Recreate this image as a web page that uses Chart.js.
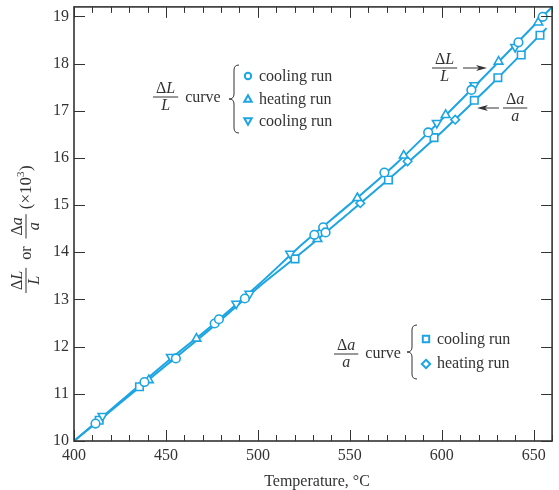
<!DOCTYPE html>
<html>
<head>
<meta charset="utf-8">
<script src="https://cdn.jsdelivr.net/npm/chart.js@4.4.0/dist/chart.umd.min.js"></script>
<style>
  html, body { margin: 0; padding: 0; background: #fff; }
</style>
</head>
<body>
<canvas id="chart" width="559" height="490"></canvas>
<script>
// values, strain in units of 10^-3

// fitted curves
const fitTemps = [400, 425, 450, 475, 500, 525, 550, 575, 600, 625, 650, 660];
const dLLFit   = [10.0, 10.83, 11.66, 12.45, 13.3, 14.2, 15.02, 15.87, 16.82, 17.8, 18.8, 19.2];
const daTemps  = [400, 425, 450, 475, 500, 525, 550, 575, 600, 625, 650, 657];
const daaFit   = [10.0, 10.8, 11.6, 12.4, 13.25, 14.03, 14.85, 15.68, 16.55, 17.48, 18.47, 18.75];

// ΔL/L measurements
const cool1Temps = [411.7, 438.3, 455.4, 476.5, 478.8, 492.9, 530.7, 535.5, 536.8, 568.8, 592.6, 616.1, 641.7, 654.9];
const cool1Vals  = [10.37, 11.25, 11.75, 12.49, 12.58, 13.02, 14.37, 14.53, 14.42, 15.69, 16.54, 17.44, 18.45, 18.99];
const heatLTemps = [440.7, 466.6, 532.4, 554.1, 579.3, 602.1, 630.9, 652.5];
const heatLVals  = [11.29, 12.17, 14.28, 15.15, 16.05, 16.91, 18.04, 18.87];
const cool2Temps = [415.5, 452.7, 488.2, 495.4, 517.5, 597.3, 617.7, 639.9];
const cool2Vals  = [10.53, 11.78, 12.91, 13.12, 13.97, 16.74, 17.54, 18.35];

// Δa/a measurements
const coolATemps = [413.7, 435.6, 520.2, 571.0, 595.8, 617.7, 630.5, 643.2, 653.4];
const coolAVals  = [10.44, 11.15, 13.86, 15.53, 16.43, 17.22, 17.70, 18.18, 18.6];
const heatATemps = [555.7, 581.4, 607.3];
const heatAVals  = [15.04, 15.93, 16.81];

const BLUE = '#1da5e2';
const INK = '#333333';
const SERIF = '"Liberation Serif", "Times New Roman", serif';
const FS = 16;

function pts(xs, ys) {
    return xs.map((x, i) => ({ x: x, y: ys[i] }));
}

function markerSet(label, xs, ys, style, rot, r) {
    return {
        type: 'scatter',
        label: label,
        data: pts(xs, ys),
        pointStyle: style,
        rotation: rot,
        pointRadius: r,
        pointBackgroundColor: '#fff',
        pointBorderColor: BLUE,
        pointBorderWidth: 1.6,
        showLine: false,
        order: 1
    };
}

function fitLine(label, xs, ys) {
    return {
        type: 'line',
        label: label,
        data: pts(xs, ys),
        borderColor: BLUE,
        borderWidth: 2,
        pointRadius: 0,
        cubicInterpolationMode: 'monotone',
        fill: false,
        order: 10
    };
}

// text helpers for the stacked fractions
function richWidth(ctx, parts, size) {
    let w = 0;
    parts.forEach(p => {
        ctx.font = (p.i ? 'italic ' : '') + size + 'px ' + SERIF;
        w += ctx.measureText(p.t).width;
    });
    return w;
}

function drawRich(ctx, parts, x, y, size) {
    parts.forEach(p => {
        ctx.font = (p.i ? 'italic ' : '') + size + 'px ' + SERIF;
        ctx.fillText(p.t, x, y);
        x += ctx.measureText(p.t).width;
    });
    return x;
}

// fraction with its left edge at x, bar at barY; returns width
function drawFrac(ctx, num, den, x, barY, size) {
    const wn = richWidth(ctx, num, size);
    const wd = richWidth(ctx, den, size);
    const w = Math.max(wn, wd) + 6;
    ctx.beginPath();
    ctx.moveTo(x, barY);
    ctx.lineTo(x + w, barY);
    ctx.lineWidth = 1;
    ctx.stroke();
    drawRich(ctx, num, x + (w - wn) / 2, barY - 4, size);
    drawRich(ctx, den, x + (w - wd) / 2, barY + 13, size);
    return w;
}

function drawBrace(ctx, x, top, bottom, w) {
    const mid = (top + bottom) / 2;
    const h = w / 2;
    ctx.beginPath();
    ctx.moveTo(x + w, top);
    ctx.quadraticCurveTo(x + h, top, x + h, top + h);
    ctx.lineTo(x + h, mid - h);
    ctx.quadraticCurveTo(x + h, mid, x, mid);
    ctx.quadraticCurveTo(x + h, mid, x + h, mid + h);
    ctx.lineTo(x + h, bottom - h);
    ctx.quadraticCurveTo(x + h, bottom, x + w, bottom);
    ctx.lineWidth = 1;
    ctx.stroke();
}

function legendMark(ctx, kind, x, y) {
    ctx.save();
    ctx.strokeStyle = BLUE;
    ctx.fillStyle = '#fff';
    ctx.lineWidth = 2;
    ctx.beginPath();
    const r = 3.2;
    if (kind === 'circle') {
        ctx.arc(x, y, r, 0, Math.PI * 2);
    } else if (kind === 'up') {
        ctx.moveTo(x, y - r - 0.5); ctx.lineTo(x + r + 0.5, y + r - 0.5); ctx.lineTo(x - r - 0.5, y + r - 0.5); ctx.closePath();
    } else if (kind === 'down') {
        ctx.moveTo(x, y + r + 0.5); ctx.lineTo(x + r + 0.5, y - r + 0.5); ctx.lineTo(x - r - 0.5, y - r + 0.5); ctx.closePath();
    } else if (kind === 'square') {
        ctx.rect(x - r, y - r, 2 * r, 2 * r);
    } else {
        ctx.moveTo(x, y - r - 1); ctx.lineTo(x + r + 1, y); ctx.lineTo(x, y + r + 1); ctx.lineTo(x - r - 1, y); ctx.closePath();
    }
    ctx.fill();
    ctx.stroke();
    ctx.restore();
}

function arrow(ctx, x1, y, x2) {
    const dir = Math.sign(x2 - x1);
    ctx.beginPath();
    ctx.moveTo(x1, y);
    ctx.lineTo(x2 - dir * 8, y);
    ctx.lineWidth = 1;
    ctx.stroke();
    ctx.beginPath();
    ctx.moveTo(x2, y);
    ctx.lineTo(x2 - dir * 11, y - 3);
    ctx.lineTo(x2 - dir * 8, y);
    ctx.lineTo(x2 - dir * 11, y + 3);
    ctx.closePath();
    ctx.fill();
}

const DL = [{ t: 'Δ' }, { t: 'L', i: true }];
const L = [{ t: 'L', i: true }];
const DA = [{ t: 'Δ' }, { t: 'a', i: true }];
const A = [{ t: 'a', i: true }];

const framePlugin = {
    id: 'frame',
    afterDraw(chart) {
        const { ctx, chartArea: a, scales: { x, y } } = chart;
        ctx.save();
        ctx.strokeStyle = INK;
        ctx.fillStyle = INK;

        // box
        ctx.lineWidth = 1.6;
        ctx.strokeRect(a.left, a.top, a.right - a.left, a.bottom - a.top);

        // inward ticks
        ctx.lineWidth = 1;
        ctx.beginPath();
        for (let t = x.min; t <= x.max; t += 10) {
            const px = Math.round(x.getPixelForValue(t)) + 0.5;
            const len = t % 50 === 0 ? 11 : 6;
            ctx.moveTo(px, a.bottom); ctx.lineTo(px, a.bottom - len);
            ctx.moveTo(px, a.top); ctx.lineTo(px, a.top + len);
        }
        y.ticks.forEach(tk => {
            const py = Math.round(y.getPixelForValue(tk.value)) + 0.5;
            ctx.moveTo(a.left, py); ctx.lineTo(a.left + 11, py);
            ctx.moveTo(a.right, py); ctx.lineTo(a.right - 11, py);
        });
        ctx.stroke();

        // axis titles
        ctx.textBaseline = 'alphabetic';
        ctx.font = FS + 'px ' + SERIF;
        ctx.textAlign = 'center';
        ctx.fillText('Temperature, °C', 317, 486);
        ctx.textAlign = 'left';

        ctx.save();
        ctx.translate(26, 293);
        ctx.rotate(-Math.PI / 2);
        let cx = 0;
        cx += drawFrac(ctx, DL, L, cx, 0, FS) + 8;
        cx = drawRich(ctx, [{ t: 'or' }], cx, 5, FS) + 8;
        cx += drawFrac(ctx, DA, A, cx, 0, FS) + 5;
        cx = drawRich(ctx, [{ t: '(×10' }], cx, 5, 17);
        drawRich(ctx, [{ t: '3' }], cx, -2, 11);
        cx += 6;
        drawRich(ctx, [{ t: ')' }], cx, 5, 17);
        ctx.restore();

        // ΔL/L legend block
        const w1 = drawFrac(ctx, DL, L, 153, 97, FS);
        drawRich(ctx, [{ t: 'curve' }], 153 + w1 + 7, 102, FS);
        drawBrace(ctx, 229, 65, 133, 10);
        legendMark(ctx, 'circle', 248, 76);
        legendMark(ctx, 'up', 248, 99);
        legendMark(ctx, 'down', 248, 121);
        drawRich(ctx, [{ t: 'cooling run' }], 259, 81, FS);
        drawRich(ctx, [{ t: 'heating run' }], 259, 104, FS);
        drawRich(ctx, [{ t: 'cooling run' }], 259, 126, FS);

        // Δa/a legend block
        const w2 = drawFrac(ctx, DA, A, 334, 354, FS);
        drawRich(ctx, [{ t: 'curve' }], 334 + w2 + 7, 358, FS);
        drawBrace(ctx, 407, 325, 379, 10);
        legendMark(ctx, 'square', 426, 339);
        legendMark(ctx, 'diamond', 426, 364);
        drawRich(ctx, [{ t: 'cooling run' }], 437, 344, FS);
        drawRich(ctx, [{ t: 'heating run' }], 437, 368, FS);

        // curve labels with arrows
        drawFrac(ctx, DL, L, 432, 68, FS);
        arrow(ctx, 463, 68, 487);
        drawFrac(ctx, DA, A, 503, 108, FS);
        arrow(ctx, 499, 108, 477);

        ctx.restore();
    }
};

function noEdgePadding(scale) {
    scale.paddingTop = 0;
    scale.paddingBottom = 0;
    scale.paddingLeft = 0;
    scale.paddingRight = 0;
}

new Chart(document.getElementById('chart'), {
    data: {
        datasets: [
            markerSet('ΔL/L cooling run', cool1Temps, cool1Vals, 'circle', 0, 4.3),
            markerSet('ΔL/L heating run', heatLTemps, heatLVals, 'triangle', 0, 5),
            markerSet('ΔL/L cooling run 2', cool2Temps, cool2Vals, 'triangle', 180, 5),
            markerSet('Δa/a cooling run', coolATemps, coolAVals, 'rect', 0, 5.3),
            markerSet('Δa/a heating run', heatATemps, heatAVals, 'rectRot', 0, 4.3),
            fitLine('ΔL/L curve', fitTemps, dLLFit),
            fitLine('Δa/a curve', daTemps, daaFit)
        ]
    },
    options: {
        responsive: false,
        animation: false,
        layout: { padding: { top: 6, right: 3, left: 0, bottom: 0 } },
        plugins: {
            legend: { display: false },
            tooltip: { enabled: false }
        },
        scales: {
            x: {
                type: 'linear',
                min: 400,
                max: 660,
                grid: { display: false, drawTicks: false },
                border: { display: false },
                ticks: {
                    stepSize: 50,
                    includeBounds: false,
                    padding: 5,
                    color: INK,
                    font: { family: SERIF, size: FS },
                    maxRotation: 0
                },
                afterFit(scale) { scale.height = 49; noEdgePadding(scale); }
            },
            y: {
                type: 'linear',
                min: 10,
                max: 19.2,
                grid: { display: false, drawTicks: false },
                border: { display: false },
                ticks: {
                    stepSize: 1,
                    includeBounds: false,
                    padding: 5,
                    color: INK,
                    font: { family: SERIF, size: FS }
                },
                afterFit(scale) { scale.width = 74; noEdgePadding(scale); }
            }
        }
    },
    plugins: [framePlugin]
});
</script>
</body>
</html>
